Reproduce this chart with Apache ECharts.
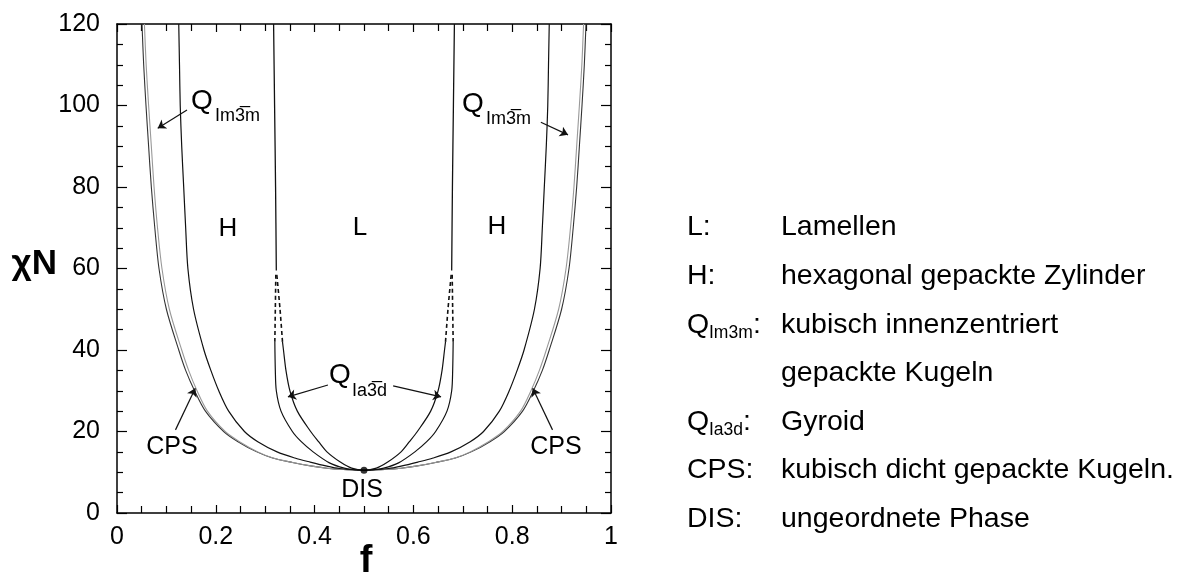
<!DOCTYPE html>
<html>
<head>
<meta charset="utf-8">
<script src="https://cdn.jsdelivr.net/npm/echarts@6/dist/echarts.min.js"></script>
<style>
  html, body { margin: 0; padding: 0; background: #fff; }
  #chart { width: 1196px; height: 578px; }
</style>
</head>
<body>
<div id="chart"></div>
<script>
// phase boundaries, left half only (f <= 0.5); the right half is the mirror f -> 1 - f
const odtF   = [0.0506, 0.054, 0.0587, 0.064, 0.0695, 0.0765, 0.085, 0.100, 0.125, 0.139, 0.157, 0.179, 0.216, 0.245, 0.283, 0.315, 0.355, 0.395, 0.425, 0.45, 0.5];
const odtChi = [120, 110, 100, 90, 80, 70, 60, 50, 40, 35, 30, 25, 20, 17.5, 15, 13.5, 12.4, 11.5, 11, 10.72, 10.495];

const cpsF   = [0.0555, 0.059, 0.064, 0.0695, 0.075, 0.082, 0.091, 0.106, 0.131, 0.145, 0.162, 0.183, 0.219, 0.248, 0.285, 0.316, 0.356, 0.395, 0.425, 0.45, 0.5];
const cpsChi = odtChi;

const imhF   = [0.125, 0.1265, 0.128, 0.131, 0.135, 0.139, 0.1435, 0.155, 0.176, 0.19, 0.206, 0.226, 0.258, 0.285, 0.324, 0.36, 0.391, 0.425, 0.45, 0.5];
const imhChi = [120, 110, 100, 90, 80, 70, 60, 50, 40, 35, 30, 25, 20, 17.5, 15, 13.5, 12.5, 11.5, 10.92, 10.495];

const hgF   = [0.3195, 0.3205, 0.3225, 0.332, 0.355, 0.373, 0.397, 0.43, 0.46, 0.48, 0.5];
const hgChi = [42, 35, 30, 25, 20, 17.5, 15, 12.3, 11, 10.65, 10.495];

const glF   = [0.335, 0.337, 0.342, 0.35, 0.365, 0.392, 0.408, 0.425, 0.452, 0.475, 0.5];
const glChi = [42, 40, 35, 30, 25, 20, 17.5, 15, 12.5, 11, 10.495];

const hgDashF   = [0.3195, 0.3205, 0.3215];
const hgDashChi = [42, 50, 58.5];
const glDashF   = [0.335, 0.33, 0.3235];
const glDashChi = [42, 50, 58.5];

const hlF   = [0.3225, 0.321, 0.319, 0.317];
const hlChi = [59.5, 80, 100, 120];

const disPoint = [0.5, 10.495];

// annotation arrows [from, to] in data units
const arrows = [
  [[0.1417, 98.9], [0.0824, 94.4]],
  [[0.858, 95.9], [0.913, 92.8]],
  [[0.427, 31.4], [0.346, 28.5]],
  [[0.559, 31.2], [0.656, 28.5]],
  [[0.1184, 20.4], [0.1585, 30.6]],
  [[0.8816, 20.4], [0.8415, 30.6]]
];

const legendKeys  = ['L:', 'H:', 'Q', '', 'Q', 'CPS:', 'DIS:'];
const legendSubs  = ['', '', 'Im3m', '', 'Ia3d', '', ''];
const legendTexts = ['Lamellen', 'hexagonal gepackte Zylinder', 'kubisch innenzentriert', 'gepackte Kugeln', 'Gyroid', 'kubisch dicht gepackte Kugeln.', 'ungeordnete Phase'];

const FONT = '"Liberation Sans", Arial, Helvetica, sans-serif';

function pts(fs, chis, mirror) {
  return fs.map((f, i) => [mirror ? 1 - f : f, chis[i]]);
}
function uCurve(fs, chis) {
  const left = pts(fs, chis, false);
  const right = left.slice(0, -1).reverse().map(p => [1 - p[0], p[1]]);
  return left.concat(right);
}

function lineSeries(data, color, width, type) {
  return {
    type: 'line', data: data, showSymbol: false, smooth: 0.3, animation: false, silent: true,
    lineStyle: { color: color, width: width, type: type || 'solid' }, z: 3
  };
}

const series = [
  lineSeries(uCurve(odtF, odtChi), '#333', 1.1),
  lineSeries(uCurve(cpsF, cpsChi), '#999', 1.1),
  lineSeries(uCurve(imhF, imhChi), '#111', 1.2),
  lineSeries(uCurve(hgF, hgChi), '#111', 1.2),
  lineSeries(uCurve(glF, glChi), '#111', 1.2),
  lineSeries(pts(hlF, hlChi, false), '#111', 1.3),
  lineSeries(pts(hlF, hlChi, true), '#111', 1.3),
  lineSeries(pts(hgDashF, hgDashChi, false), '#111', 1.6, [4, 3]),
  lineSeries(pts(hgDashF, hgDashChi, true), '#111', 1.6, [4, 3]),
  lineSeries(pts(glDashF, glDashChi, false), '#111', 1.6, [4, 3]),
  lineSeries(pts(glDashF, glDashChi, true), '#111', 1.6, [4, 3]),
  {
    type: 'lines', coordinateSystem: 'cartesian2d', animation: false, silent: true, z: 4,
    symbol: ['none', 'arrow'], symbolSize: [0, 8],
    lineStyle: { color: '#111', width: 1.2, opacity: 1, curveness: 0 },
    data: arrows.map(a => ({ coords: a }))
  },
  {
    type: 'scatter', data: [disPoint], symbolSize: 7, animation: false, silent: true, z: 5,
    itemStyle: { color: '#000' }
  }
];

const tickStyle = { color: '#000', width: 1.2 };
function xAxis(pos, labels) {
  return {
    type: 'value', position: pos, min: 0, max: 1, interval: 0.2,
    axisLine: { show: true, onZero: false, lineStyle: { color: '#000', width: 1.5 } },
    axisTick: { show: true, inside: true, length: 8, lineStyle: tickStyle },
    minorTick: { show: true, splitNumber: 4, length: 7, lineStyle: tickStyle },
    splitLine: { show: false },
    axisLabel: { show: labels, color: '#000', fontFamily: FONT, fontSize: 25, margin: 12 }
  };
}
function yAxis(pos, labels) {
  return {
    type: 'value', position: pos, min: 0, max: 120, interval: 20,
    axisLine: { show: true, onZero: false, lineStyle: { color: '#000', width: 1.5 } },
    axisTick: { show: true, inside: true, length: 10, lineStyle: tickStyle },
    minorTick: { show: true, splitNumber: 4, length: 6, lineStyle: tickStyle },
    splitLine: { show: false },
    axisLabel: { show: labels, color: '#000', fontFamily: FONT, fontSize: 25, margin: 17 }
  };
}

function txt(x, y, s, size, align, weight) {
  return {
    type: 'text', x: x, y: y, silent: true, z: 10,
    style: {
      text: s, fill: '#000', align: align || 'left', verticalAlign: 'middle',
      font: (weight || 'normal') + ' ' + size + 'px ' + FONT
    }
  };
}

const graphics = [
  txt(57, 264, 'χN', 35, 'right', 'bold'),
  txt(366, 562, 'f', 38, 'center', 'bold'),
  txt(228, 229, 'H', 26, 'center'),
  txt(360, 228, 'L', 26, 'center'),
  txt(497, 227, 'H', 26, 'center'),
  txt(191, 101, 'Q', 28),
  txt(215, 116, 'Im3\u0305m', 18),
  txt(462, 104, 'Q', 28),
  txt(486, 119, 'Im3\u0305m', 18),
  txt(329, 375, 'Q', 28),
  txt(352, 391, 'Ia3\u0305d', 18),
  txt(172, 447, 'CPS', 25, 'center'),
  txt(556, 447, 'CPS', 25, 'center'),
  txt(362, 490, 'DIS', 25, 'center')
];

// legend block on the right
legendKeys.forEach((k, i) => {
  const y = 227.5 + i * 48.6;
  if (legendSubs[i]) {
    graphics.push(txt(687, y, k, 28.5));
    graphics.push(txt(709, y + 8, legendSubs[i], 17.5));
    graphics.push(txt(legendSubs[i] === 'Im3m' ? 753 : 743, y, ':', 28.5));
  } else if (k) {
    graphics.push(txt(687, y, k, 28.5));
  }
  graphics.push(txt(781, y, legendTexts[i], 28.5));
});

const chart = echarts.init(document.getElementById('chart'), null, { renderer: 'canvas' });
chart.setOption({
  backgroundColor: '#fff',
  animation: false,
  grid: { left: 117, top: 24, width: 494, height: 489, containLabel: false },
  xAxis: [xAxis('bottom', true), xAxis('top', false)],
  yAxis: [yAxis('left', true), yAxis('right', false)],
  series: series,
  graphic: graphics
});
</script>
</body>
</html>
